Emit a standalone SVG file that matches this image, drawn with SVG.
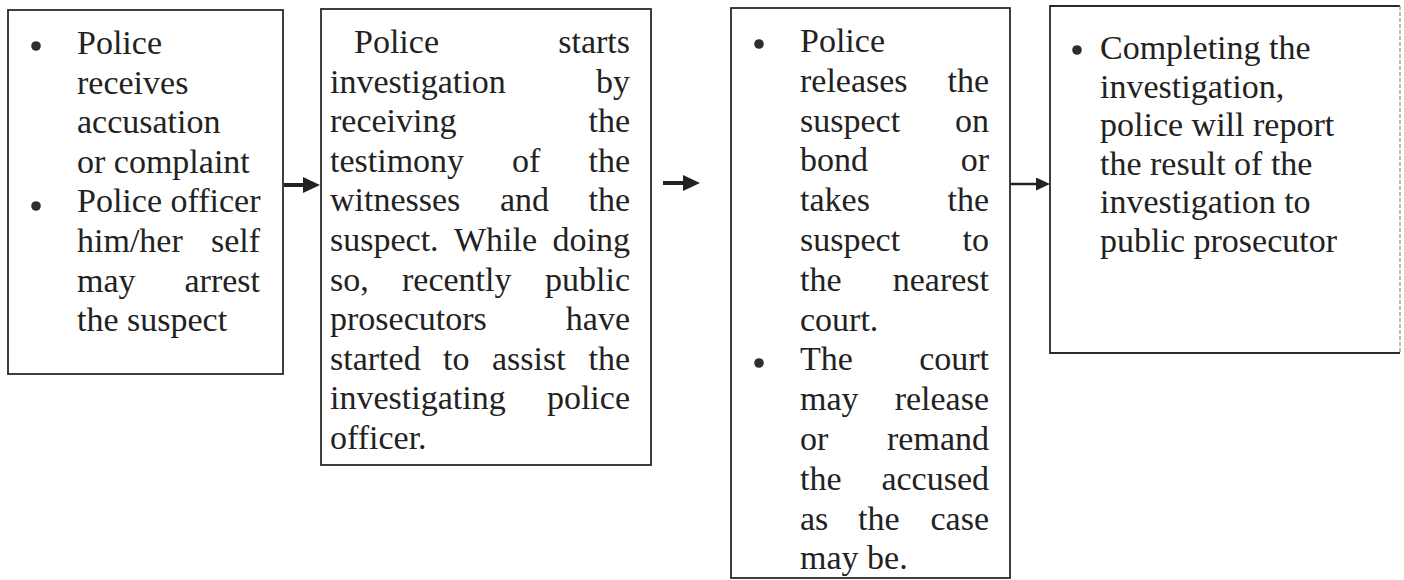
<svg xmlns="http://www.w3.org/2000/svg" width="1404" height="580" viewBox="0 0 1404 580">
<style>
.box{fill:#ffffff;stroke:#2a2a2a;stroke-width:1.8}
.edge{fill:none;stroke:#2a2a2a;stroke-width:1.8}
.faint{fill:none;stroke:#8a8a8a;stroke-width:1.2;stroke-dasharray:4 2}
.t{font-family:"Liberation Serif","Times New Roman",serif;font-size:34px;fill:#222222}
.e{text-anchor:end}
.dot{fill:#2e2e2e}
.conn{stroke:#222;fill:none}
</style>
<defs>
<marker id="ah" markerUnits="userSpaceOnUse" markerWidth="17" markerHeight="16" refX="6" refY="8" orient="auto">
<path d="M0,0 L17,8 L0,16 z" fill="#222"/>
</marker>
<marker id="ah2" markerUnits="userSpaceOnUse" markerWidth="14" markerHeight="13" refX="4" refY="6.5" orient="auto">
<path d="M0,0 L14,6.5 L0,13 z" fill="#222"/>
</marker>
</defs>
<rect width="1404" height="580" fill="#ffffff"/>

<g id="connectors">
<path class="conn" d="M284,185 H309" stroke-width="4" marker-end="url(#ah)"/>
<path class="conn" d="M663,183 H689" stroke-width="4" marker-end="url(#ah)"/>
<path class="conn" d="M1010,184 H1040" stroke-width="2.5" marker-end="url(#ah2)"/>
</g>

<g id="node1">
<rect class="box" x="8" y="10" width="275" height="364"/>
<circle class="dot" cx="36" cy="46" r="4.8"/>
<circle class="dot" cx="36" cy="206" r="4.8"/>
<text class="t" x="77" y="54">Police</text>
<text class="t" x="77" y="93.6">receives</text>
<text class="t" x="77" y="133.2">accusation</text>
<text class="t" x="77" y="172.8">or complaint</text>
<text class="t" x="77" y="212.4">Police officer</text>
<text class="t" x="77" y="252">him/her</text><text class="t e" x="260" y="252">self</text>
<text class="t" x="77" y="291.6">may</text><text class="t e" x="260" y="291.6">arrest</text>
<text class="t" x="77" y="331.2">the suspect</text>
</g>

<g id="node2">
<rect class="box" x="321" y="9" width="330" height="456"/>
<text class="t" x="354" y="53">Police</text><text class="t e" x="630" y="53">starts</text>
<text class="t" x="330" y="92.6">investigation</text><text class="t e" x="630" y="92.6">by</text>
<text class="t" x="330" y="132.2">receiving</text><text class="t e" x="630" y="132.2">the</text>
<text class="t" x="330" y="171.8">testimony</text><text class="t" x="512" y="171.8">of</text><text class="t e" x="630" y="171.8">the</text>
<text class="t" x="330" y="211.4">witnesses</text><text class="t" x="500" y="211.4">and</text><text class="t e" x="630" y="211.4">the</text>
<text class="t" x="330" y="251">suspect.</text><text class="t" x="454" y="251">While</text><text class="t e" x="630" y="251">doing</text>
<text class="t" x="330" y="290.6">so,</text><text class="t" x="402" y="290.6">recently</text><text class="t e" x="630" y="290.6">public</text>
<text class="t" x="330" y="330.2">prosecutors</text><text class="t e" x="630" y="330.2">have</text>
<text class="t" x="330" y="369.8">started</text><text class="t" x="443" y="369.8">to</text><text class="t" x="492" y="369.8">assist</text><text class="t e" x="630" y="369.8">the</text>
<text class="t" x="330" y="409.4">investigating</text><text class="t e" x="630" y="409.4">police</text>
<text class="t" x="330" y="449">officer.</text>
</g>

<g id="node3">
<rect class="box" x="731" y="8" width="279" height="570"/>
<circle class="dot" cx="759" cy="44" r="4.8"/>
<circle class="dot" cx="759" cy="363" r="4.8"/>
<text class="t" x="800" y="52">Police</text>
<text class="t" x="800" y="91.8">releases</text><text class="t e" x="989" y="91.8">the</text>
<text class="t" x="800" y="131.6">suspect</text><text class="t e" x="989" y="131.6">on</text>
<text class="t" x="800" y="171.4">bond</text><text class="t e" x="989" y="171.4">or</text>
<text class="t" x="800" y="211.2">takes</text><text class="t e" x="989" y="211.2">the</text>
<text class="t" x="800" y="251">suspect</text><text class="t e" x="989" y="251">to</text>
<text class="t" x="800" y="290.8">the</text><text class="t e" x="989" y="290.8">nearest</text>
<text class="t" x="800" y="330.6">court.</text>
<text class="t" x="800" y="370.4">The</text><text class="t e" x="989" y="370.4">court</text>
<text class="t" x="800" y="410.2">may</text><text class="t e" x="989" y="410.2">release</text>
<text class="t" x="800" y="450">or</text><text class="t e" x="989" y="450">remand</text>
<text class="t" x="800" y="489.8">the</text><text class="t e" x="989" y="489.8">accused</text>
<text class="t" x="800" y="529.6">as</text><text class="t" x="858" y="529.6">the</text><text class="t e" x="989" y="529.6">case</text>
<text class="t" x="800" y="569.4">may be.</text>
</g>

<g id="node4">
<rect x="1050" y="6" width="350" height="347" fill="#ffffff"/>
<path class="edge" d="M1400,6 H1050 V353 H1400"/>
<path class="faint" d="M1400,6 V353"/>
<circle class="dot" cx="1077" cy="50" r="4.8"/>
<text class="t" x="1100" y="59">Completing the</text>
<text class="t" x="1100" y="97.6">investigation,</text>
<text class="t" x="1100" y="136.2">police will report</text>
<text class="t" x="1100" y="174.8">the result of the</text>
<text class="t" x="1100" y="213.4">investigation to</text>
<text class="t" x="1100" y="252">public prosecutor</text>
</g>
</svg>
